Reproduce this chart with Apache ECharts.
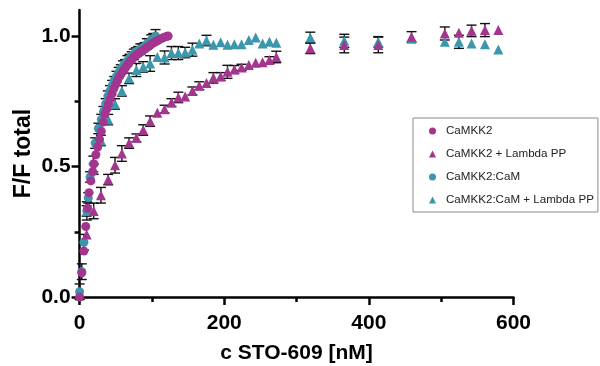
<!DOCTYPE html>
<html><head><meta charset="utf-8">
<script src="https://cdn.jsdelivr.net/npm/echarts@6/dist/echarts.min.js"></script>
<style>html,body{margin:0;padding:0;background:#fff}#c{width:600px;height:366px}</style>
</head><body><div id="c"></div>
<script>
// ---- data ----
const seriesNames = ['CaMKK2', 'CaMKK2 + Lambda PP', 'CaMKK2:CaM', 'CaMKK2:CaM + Lambda PP'];
const xTickLabels = [0, 200, 400, 600];
const xMinorTicks = [100, 300, 500];
const yTickLabels = [0, 0.5, 1.0];
const yMinorTicks = [0.25, 0.75];

// CaMKK2 (circles)
const x1 = [0,3,6,8.5,11,13,15.5,18,20,22.5,25,27.5,30,32.5,35,37.5,40,42.5,45,47.5,50,52.5,55,57.5,60,62.5,65,67.5,70,72.5,75,77.5,80,82.5,85,87.5,90,92.5,95,97.5,100,102.5,105,107.5,110,112.5,115,117.5,120,122.5];
const y1 = [0,0.093,0.176,0.27,0.34,0.40,0.445,0.48,0.51,0.545,0.575,0.605,0.635,0.67,0.70,0.72,0.74,0.76,0.78,0.80,0.815,0.83,0.845,0.855,0.865,0.875,0.885,0.895,0.905,0.91,0.92,0.925,0.93,0.935,0.94,0.945,0.95,0.955,0.96,0.965,0.97,0.974,0.978,0.982,0.986,0.99,0.993,0.996,0.998,1.0];

// CaMKK2 + Lambda PP (triangles)
const x2 = [9.7,19.5,29.5,39.5,49,58.5,68.5,78.5,88,97.5,107.5,117.5,127,136.5,146,156,165.5,175.5,185,195,204.5,214,224,234,243.5,253,262.5,272,319,366,413,459,505,524.5,542,560.5,579];
const y2 = [0.24,0.33,0.39,0.45,0.505,0.55,0.59,0.61,0.64,0.674,0.706,0.72,0.745,0.765,0.768,0.79,0.81,0.82,0.84,0.845,0.863,0.872,0.88,0.889,0.898,0.90,0.908,0.92,0.953,0.966,0.966,0.997,1.01,1.013,1.02,1.023,1.023];
const e2 = [0,0.03,0.03,0.02,0.03,0.03,0.02,0.015,0.02,0.02,0,0.015,0.015,0.02,0,0.015,0.015,0,0.02,0.015,0.025,0.015,0.012,0,0,0,0.013,0.022,0.02,0.03,0.03,0.02,0.025,0,0.022,0.025,0];

// CaMKK2:CaM (circles)
const x3 = [0,3,6,10,12,14.5,19,21.5,26,30,33,36,39,42,45,48,51,54,57,60,63,66,69,72,75,78,81,84,87,90,93,96,99,102,105];
const y3 = [0.02,0.097,0.21,0.33,0.38,0.46,0.51,0.59,0.646,0.68,0.71,0.74,0.77,0.79,0.81,0.83,0.845,0.86,0.875,0.885,0.895,0.905,0.915,0.925,0.93,0.94,0.945,0.95,0.955,0.96,0.97,0.975,0.985,0.99,1.0];
const e3 = [0.03,0.03,0.03,0.035,0.02,0.02,0.03,0.02,0.02,0.02,0.02,0.02,0.02,0.02,0.02,0.015,0.02,0.02,0.015,0.02,0.015,0.02,0.015,0.015,0.02,0.015,0.015,0.02,0.015,0.015,0.02,0.015,0.02,0.02,0.025];

// CaMKK2:CaM + Lambda PP (triangles)
const x4 = [9.7,19.5,29.5,39.5,49,58.5,68.5,78.5,88,97.5,107.5,117.5,127,136.5,146,156,165.5,175.5,185,195,204.5,214,224,234,243.5,253,262.5,272,319,366,413,459,505,524.5,542,560.5,579];
const y4 = [0.33,0.49,0.60,0.68,0.74,0.79,0.838,0.87,0.882,0.895,0.92,0.918,0.935,0.935,0.937,0.948,0.972,0.983,0.967,0.976,0.967,0.969,0.969,0.985,0.995,0.972,0.978,0.974,0.995,0.982,0.978,0.99,0.978,0.978,0.972,0.969,0.949];
const e4 = [0.02,0.02,0.02,0.02,0.02,0.02,0.02,0.025,0.02,0.03,0,0.025,0.025,0.025,0.02,0.025,0,0.02,0,0,0,0,0,0,0,0,0,0,0.02,0.025,0.02,0,0,0.025,0,0,0];

// ---- build ----
const PURPLE = '#a4358f';
const TEAL = '#3c97ad';
const pairs = (xs, ys) => xs.map((x, i) => [x, ys[i]]);
const triples = (xs, ys, es) => xs.map((x, i) => [x, ys[i], es[i]]);

function errSeries(data, z) {
  return {
    type: 'custom', z: z, silent: true, clip: false,
    encode: { x: 0, y: 1 },
    data: data,
    renderItem: function (params, api) {
      const e = api.value(2);
      if (!e) return null;
      const x = api.value(0), y = api.value(1);
      const top = api.coord([x, y + e]);
      const bot = api.coord([x, y - e]);
      const hw = 5;
      const st = { stroke: '#111', lineWidth: 1.4 };
      return {
        type: 'group',
        children: [
          { type: 'line', shape: { x1: top[0], y1: top[1], x2: bot[0], y2: bot[1] }, style: st },
          { type: 'line', shape: { x1: top[0] - hw, y1: top[1], x2: top[0] + hw, y2: top[1] }, style: st },
          { type: 'line', shape: { x1: bot[0] - hw, y1: bot[1], x2: bot[0] + hw, y2: bot[1] }, style: st }
        ]
      };
    }
  };
}

const axisFont = { fontFamily: 'Liberation Sans, Arial, sans-serif', fontWeight: 'bold', fontSize: 21, color: '#000' };
const lineSt = { color: '#000', width: 2.5 };

const option = {
  animation: false,
  backgroundColor: '#fff',
  grid: { left: 79.6, right: 86.5, top: 10, bottom: 69, containLabel: false, outerBoundsMode: 'none' },
  legend: {
    data: seriesNames,
    orient: 'vertical',
    left: 413, top: 118,
    padding: [7, 4, 6, 16],
    itemGap: 11,
    itemWidth: 7, itemHeight: 7,
    borderColor: '#8a8a8a', borderWidth: 1,
    textStyle: { fontFamily: 'Liberation Sans, Arial, sans-serif', fontSize: 11.6, color: '#222', padding: [0, 0, 0, 5] }
  },
  xAxis: [
    {
      type: 'value', min: 0, max: 600,
      axisLine: { show: true, lineStyle: lineSt },
      axisTick: { show: true, customValues: xTickLabels, length: 8, lineStyle: lineSt },
      axisLabel: Object.assign({ customValues: xTickLabels, margin: 16 }, axisFont),
      splitLine: { show: false },
      name: 'c STO-609 [nM]', nameLocation: 'middle', nameGap: 46, nameMoveOverlap: false,
      nameTextStyle: axisFont
    },
    {
      type: 'value', min: 0, max: 600, position: 'bottom',
      axisLine: { show: false },
      axisTick: { show: true, customValues: xMinorTicks, length: 5, lineStyle: lineSt },
      axisLabel: { show: false }, splitLine: { show: false }
    }
  ],
  yAxis: [
    {
      type: 'value', min: 0, max: 1.1,
      axisLine: { show: true, lineStyle: lineSt },
      axisTick: { show: true, customValues: yTickLabels, length: 8, lineStyle: lineSt },
      axisLabel: Object.assign({ customValues: yTickLabels, margin: 9, formatter: v => v.toFixed(1) }, axisFont),
      splitLine: { show: false },
      name: 'F/F total', nameLocation: 'middle', nameGap: 44, nameRotate: 90, nameMoveOverlap: false,
      nameTextStyle: Object.assign({}, axisFont, { fontSize: 23 })
    },
    {
      type: 'value', min: 0, max: 1.1, position: 'left',
      axisLine: { show: false },
      axisTick: { show: true, customValues: yMinorTicks, length: 5, lineStyle: lineSt },
      axisLabel: { show: false }, splitLine: { show: false }
    }
  ],
  series: [
    errSeries(triples(x3, y3, e3), 1),
    errSeries(triples(x4, y4, e4), 1),
    errSeries(triples(x2, y2, e2), 1),
    { name: seriesNames[2], type: 'scatter', z: 2, clip: false, symbol: 'circle', symbolSize: 9, itemStyle: { color: TEAL, opacity: 1 }, data: pairs(x3, y3) },
    { name: seriesNames[3], type: 'scatter', z: 3, clip: false, symbol: 'triangle', symbolSize: 10, itemStyle: { color: TEAL, opacity: 1 }, data: pairs(x4, y4) },
    { name: seriesNames[1], type: 'scatter', z: 4, clip: false, symbol: 'triangle', symbolSize: 10, itemStyle: { color: PURPLE, opacity: 1 }, data: pairs(x2, y2) },
    { name: seriesNames[0], type: 'scatter', z: 5, clip: false, symbol: 'circle', symbolSize: 9, itemStyle: { color: PURPLE, opacity: 1 }, data: pairs(x1, y1) }
  ]
};
const chart = echarts.init(document.getElementById('c'), null, { renderer: 'canvas' });
chart.setOption(option);
</script>
</body></html>
